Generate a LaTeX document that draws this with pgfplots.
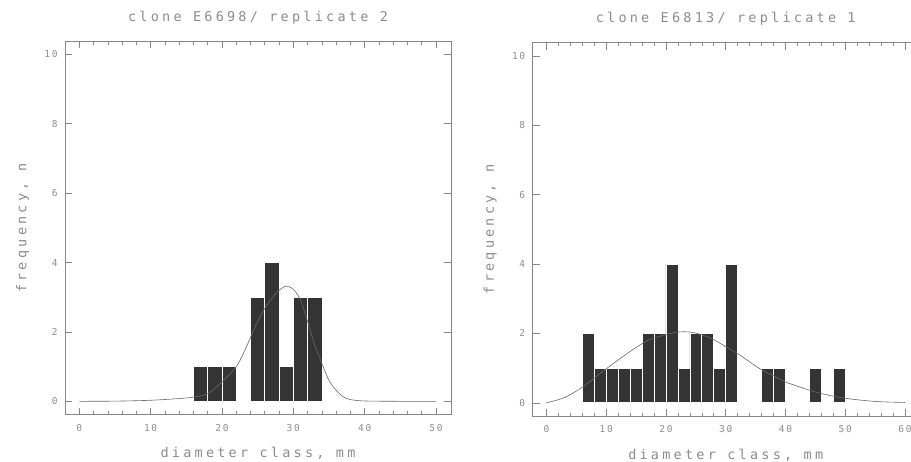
\documentclass[border=0pt]{standalone}
\usepackage{fontspec}
\usepackage{pgfplots}
\pgfplotsset{compat=1.18}
\newfontfamily\plotfont[LetterSpace=24]{DejaVu Sans Mono}
\newfontfamily\tickfont[LetterSpace=18]{DejaVu Sans Mono}
\definecolor{txtgray}{RGB}{140,140,140}
\definecolor{frmgray}{RGB}{135,135,135}
\definecolor{bardark}{RGB}{52,52,52}
\definecolor{curvegray}{RGB}{105,105,105}
\pgfplotsset{
  myax/.style={
    scale only axis, width=386bp, height=373.3bp, anchor=south west,
    ymin=-0.38, ymax=10.38,
    ytick={0,2,...,10},
    minor x tick num=4,
    tick align=inside,
    major tick length=7bp, minor tick length=3.5bp,
    axis line style={frmgray, line width=0.6bp},
    every tick/.style={frmgray, line width=0.6bp},
    /pgf/number format/assume math mode=true,
    tick label style={font=\fontsize{9.5bp}{11bp}\tickfont, text=txtgray},
    xticklabel style={yshift=-6bp},
    yticklabel style={xshift=-4bp},
    every axis title/.style={font=\fontsize{13.5bp}{15bp}\plotfont, text=txtgray, at={(axis description cs:0.5,1.064)}, anchor=center},
    every axis y label/.style={font=\fontsize{13.5bp}{15bp}\plotfont, text=txtgray, at={(axis description cs:-0.11,0.5)}, rotate=90, anchor=center},
    every axis x label/.style={font=\fontsize{13.5bp}{15bp}\plotfont, text=txtgray, at={(axis description cs:0.5,-0.105)}, anchor=center},
    xlabel={diameter class, mm},
    ylabel={frequency, n},
  },
  mybar/.style={ybar, bar width=2, bar shift=0pt, fill=bardark, draw=white, line width=0.7bp},
  mycurve/.style={curvegray, line width=0.6bp, smooth, no markers},
}
\begin{document}
\begin{tikzpicture}
\useasboundingbox (0,0) rectangle (911bp,462bp);
\begin{axis}[myax, at={(65bp,47.5bp)}, xmin=-2, xmax=52.1, xtick={0,10,...,50},
  title={clone E6698/ replicate 2}]
\addplot[mybar] coordinates {(17,1) (19,1) (21,1) (25,3) (27,4) (29,1) (31,3) (33,3)};
\addplot[mycurve] coordinates {
(0,0) (5,0.005) (10,0.03) (14,0.08) (16,0.12) (18,0.22) (20,0.56) (22,1.0) (23,1.38)
(24,1.84) (25,2.3) (26,2.68) (27,2.97) (28,3.2) (29,3.32) (30,3.23) (31,2.92) (32,2.3)
(33,1.62) (34,1.09) (35,0.6) (36,0.32) (37,0.13) (38,0.05) (40,0.01) (45,0) (50,0)};
\end{axis}
\begin{axis}[myax, at={(532.7bp,46bp)}, xmin=-2.3, xmax=62.3, xtick={0,10,...,60},
  title={clone E6813/ replicate 1}]
\addplot[mybar] coordinates {(7,2) (9,1) (11,1) (13,1) (15,1) (17,2) (19,2) (21,4) (23,1)
(25,2) (27,2) (29,1) (31,4) (37,1) (39,1) (45,1) (49,1)};
\addplot[mycurve] coordinates {
(0,0) (3,0.15) (6,0.45) (10,0.98) (14,1.48) (17,1.8) (20,1.97) (22,2.04) (24,2.04)
(26,1.96) (28,1.82) (30,1.62) (32,1.42) (34,1.18) (36,0.95) (38,0.78) (40,0.6)
(42,0.48) (45,0.31) (48,0.19) (50,0.13) (53,0.07) (56,0.03) (60,0.01)};
\end{axis}
\end{tikzpicture}
\end{document}
